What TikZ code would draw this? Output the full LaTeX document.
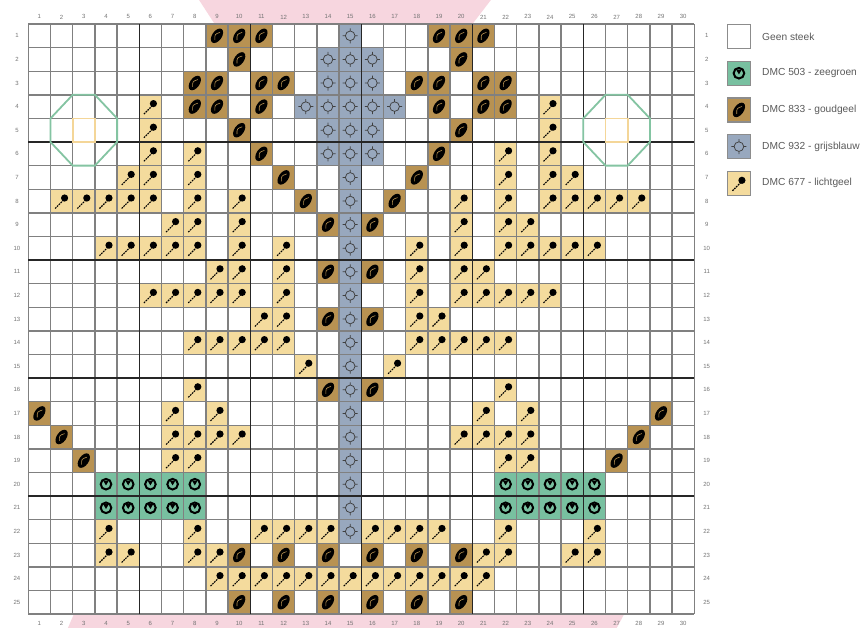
\documentclass[tikz,border=0pt]{standalone}
\usepackage{fontspec}
\setmainfont{Liberation Sans}
\usetikzlibrary{positioning}
\definecolor{zeegroen}{RGB}{120,192,160}
\definecolor{goudgeel}{RGB}{184,146,82}
\definecolor{grijsblauw}{RGB}{152,168,190}
\definecolor{lichtgeel}{RGB}{244,219,157}
\definecolor{octgroen}{RGB}{132,196,162}
\definecolor{midgeel}{RGB}{244,214,152}
\definecolor{roze}{RGB}{247,214,223}

\begin{document}
\begin{tikzpicture}[x=22.2pt,y=-23.6pt,
  gridln/.style={draw=black!50,line width=1.4pt},
  gridmaj/.style={draw=black!85,line width=1.6pt},
  octa/.style={draw=octgroen,line width=1.8pt},
  midsq/.style={draw=midgeel,line width=1.6pt},
  num/.style={font=\fontsize{6}{7}\selectfont,text=black!55,inner sep=0pt},
  key/.style={draw=black!45,line width=1.2pt,minimum width=23pt,minimum height=24pt,inner sep=0pt},
  lab/.style={font=\fontsize{10.2}{12}\selectfont,text=black!65,inner sep=0pt},
  leaf/.pic={\fill[rotate=55] (0,0) ellipse (8.2pt and 4.8pt);
    \draw[goudgeel,line width=.6pt,rotate=55] (-4.5pt,-.5pt) .. controls (0,2.8pt) .. (4.5pt,-.5pt);},
  pin/.pic={\draw[line width=1.1pt,dash pattern=on 1.7pt off .9pt] (-6.5pt,-7.5pt) -- (1.5pt,.5pt);
    \fill (3pt,3pt) circle (3.6pt);},
  ring/.pic={\draw[black!75,line width=.75pt] (0,0) circle (4.8pt) (0,4.8pt) -- (0,7.5pt) (0,-4.8pt) -- (0,-7.5pt)
    (4.8pt,0) -- (7.5pt,0) (-4.8pt,0) -- (-7.5pt,0);},
  bloom/.pic={\draw[line width=2pt] (0,0) circle (5.3pt);
    \fill (-2.8pt,3.6pt) -- (2.8pt,3.6pt) -- (0,-1.2pt) -- cycle;}]
\useasboundingbox (-1.2748,-1.0169) rectangle (37.779,25.593);
\fill[roze] (7.69,-1.02) -- (20.84,-1.02) -- (19.6,0.5) -- (8.74,0.5) -- cycle;
\fill[roze] (2.1,24.9) -- (26.9,24.9) -- (26.5,25.6) -- (1.78,25.6) -- cycle;
\fill[white] (0,0) rectangle (30,25);
\foreach \r/\cs in {1/{9,10,11,19,20,21},2/{10,20},3/{8,9,11,12,18,19,21,22},4/{8,9,11,19,21,22},
    5/{10,20},6/{11,19},7/{12,18},8/{13,17},9/{14,16},11/{14,16},13/{14,16},16/{14,16},
    17/{1,29},18/{2,28},19/{3,27},23/{10,12,14,16,18,20},25/{10,12,14,16,18,20}}
  \foreach \c in \cs {\fill[goudgeel] (\c-1,\r-1) rectangle (\c,\r); \pic at (\c-.5,\r-.5) {leaf};}
\foreach \r/\cs in {1/{15},2/{14,15,16},3/{14,15,16},4/{13,14,15,16,17},5/{14,15,16},6/{14,15,16},
    7/{15},8/{15},9/{15},10/{15},11/{15},12/{15},13/{15},14/{15},15/{15},16/{15},17/{15},
    18/{15},19/{15},20/{15},21/{15},22/{15}}
  \foreach \c in \cs {\fill[grijsblauw] (\c-1,\r-1) rectangle (\c,\r); \pic at (\c-.5,\r-.5) {ring};}
\foreach \r/\cs in {4/{6,24},5/{6,24},6/{6,8,22,24},7/{5,6,8,22,24,25},
    8/{2,3,4,5,6,8,10,20,22,24,25,26,27,28},9/{7,8,10,20,22,23},
    10/{4,5,6,7,8,10,12,18,20,22,23,24,25,26},11/{9,10,12,18,20,21},
    12/{6,7,8,9,10,12,18,20,21,22,23,24},13/{11,12,18,19},14/{8,9,10,11,12,18,19,20,21,22},
    15/{13,17},16/{8,22},17/{7,9,21,23},18/{7,8,9,10,20,21,22,23},19/{7,8,22,23},
    22/{4,8,11,12,13,14,16,17,18,19,22,26},23/{4,5,8,9,21,22,25,26},
    24/{9,10,11,12,13,14,15,16,17,18,19,20,21}}
  \foreach \c in \cs {\fill[lichtgeel] (\c-1,\r-1) rectangle (\c,\r); \pic at (\c-.5,\r-.5) {pin};}
\foreach \r/\cs in {20/{4,5,6,7,8,22,23,24,25,26},21/{4,5,6,7,8,22,23,24,25,26}}
  \foreach \c in \cs {\fill[zeegroen] (\c-1,\r-1) rectangle (\c,\r); \pic at (\c-.5,\r-.5) {bloom};}
\foreach \i in {0,...,30} \draw[gridln] (\i,0) -- (\i,25);
\foreach \j in {0,...,25} \draw[gridln] (0,\j) -- (30,\j);
\foreach \i in {5,10,...,25} \draw[gridmaj] (\i,0) -- (\i,25);
\foreach \j in {5,10,15,20} \draw[gridmaj] (0,\j) -- (30,\j);
\foreach \m in {2,26} {
  \draw[octa] (\m,3) -- ++(1,0) -- ++(1,1) -- ++(0,1) -- ++(-1,1) -- ++(-1,0) -- ++(-1,-1) -- ++(0,-1) -- cycle;
  \draw[midsq] (\m,4) rectangle ++(1,1);}
\foreach \c in {1,...,30} {
  \node[num] (top\c) at (\c-.5,-.3) {\c};
  \node[num] (bot\c) at (\c-.5,25.38) {\c};}
\foreach \r in {1,...,25} {
  \node[num] (left\r) at (-.51,\r-.5) {\r};
  \node[num] (right\r) at (30.56,\r-.5) {\r};}
\node[key,fill=white] (key0) at (32.01,.53) {};
\node[key,fill=zeegroen,below=11.5pt of key0] (key1) {};
\node[key,fill=goudgeel,below=11.5pt of key1] (key2) {};
\node[key,fill=grijsblauw,below=11.5pt of key2] (key3) {};
\node[key,fill=lichtgeel,below=11.5pt of key3] (key4) {};
\pic at (key1) {bloom};
\pic at (key2) {leaf};
\pic at (key3) {ring};
\pic at (key4) {pin};
\node[lab,right=11pt of key0] (lab0) {Geen steek};
\node[lab,right=11pt of key1] (lab1) {DMC 503 - zeegroen};
\node[lab,right=11pt of key2] (lab2) {DMC 833 - goudgeel};
\node[lab,right=11pt of key3] (lab3) {DMC 932 - grijsblauw};
\node[lab,right=11pt of key4] (lab4) {DMC 677 - lichtgeel};
\end{tikzpicture}
\end{document}
